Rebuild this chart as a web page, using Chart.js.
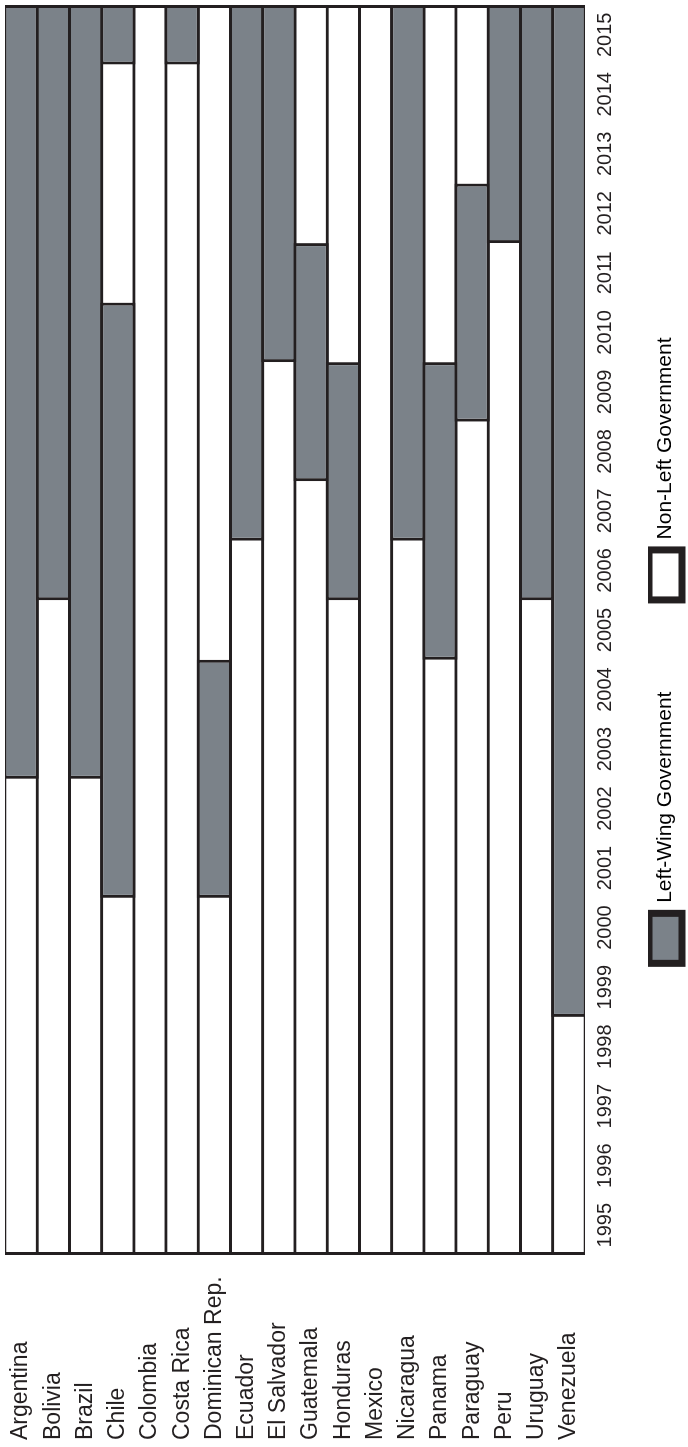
<!DOCTYPE html>
<html>
<head>
<meta charset="utf-8">
<script src="https://cdn.jsdelivr.net/npm/chart.js@4/dist/chart.umd.min.js"></script>
<style>
    html, body { margin: 0; padding: 0; background: #fff; overflow: hidden; }
    body { width: 688px; height: 1447px; position: relative; }
    /* chart is drawn landscape, then turned a quarter turn to the left */
    #wrap {
        position: absolute;
        left: 0;
        top: 0;
        width: 1447px;
        height: 688px;
        transform-origin: 0 0;
        transform: translateY(1447px) rotate(-90deg);
    }
</style>
</head>
<body>
<div id="wrap"><canvas id="govChart" width="1447" height="688"></canvas></div>
<script>
const countries = ['Argentina', 'Bolivia', 'Brazil', 'Chile', 'Colombia', 'Costa Rica', 'Dominican Rep.',
    'Ecuador', 'El Salvador', 'Guatemala', 'Honduras', 'Mexico', 'Nicaragua', 'Panama', 'Paraguay',
    'Peru', 'Uruguay', 'Venezuela'];
const years = [1995, 1996, 1997, 1998, 1999, 2000, 2001, 2002, 2003, 2004, 2005,
    2006, 2007, 2008, 2009, 2010, 2011, 2012, 2013, 2014, 2015];

// first and last year of a left-wing government (null = none)
const leftFrom = [2003, 2006, 2003, 2001, null, 2015, 2001, 2007, 2010, 2008, 2006, null, 2007, 2005, 2009, 2012, 2006, 1999];
const leftTo = [2015, 2015, 2015, 2010, null, 2015, 2004, 2015, 2015, 2011, 2009, null, 2015, 2009, 2012, 2015, 2015, 2015];
// second left-wing spell
const leftFrom2 = [null, null, null, 2015, null, null, null, null, null, null, null, null, null, null, null, null, null, null];
const leftTo2 = [null, null, null, 2015, null, null, null, null, null, null, null, null, null, null, null, null, null, null];

const GRAY = '#7b8289';
const INK = '#231f20';
const FONT = "'Liberation Sans', Arial, sans-serif";

const firstYear = years[0];
const lastYear = years[years.length - 1] + 1;

const spell = (from, to) => from.map((f, i) => (f === null ? null : [f, to[i] + 1]));

const barStyle = {
    borderColor: INK,
    borderWidth: 3,
    borderSkipped: false,
    categoryPercentage: 1,
    barPercentage: 1.093,
    grouped: false
};

// invisible legend entry, used only to space the real ones
const blank = { fillStyle: 'rgba(0,0,0,0)', strokeStyle: 'rgba(0,0,0,0)', lineWidth: 0, datasetIndex: 1 };

new Chart(document.getElementById('govChart'), {
    type: 'bar',
    data: {
        labels: countries,
        datasets: [
            { label: 'Left-Wing Government', data: spell(leftFrom, leftTo), backgroundColor: GRAY, ...barStyle },
            { label: 'Left-Wing Government', data: spell(leftFrom2, leftTo2), backgroundColor: GRAY, ...barStyle },
            { label: 'Non-Left Government', data: countries.map(() => [firstYear, lastYear]), backgroundColor: '#ffffff', ...barStyle }
        ]
    },
    options: {
        indexAxis: 'y',
        responsive: false,
        devicePixelRatio: 1,
        animation: false,
        layout: { padding: { left: 7, right: 5, top: 5, bottom: -4 } },
        scales: {
            x: {
                type: 'linear',
                min: firstYear,
                max: lastYear,
                grid: { display: false, drawTicks: false },
                border: { display: false },
                afterBuildTicks: axis => {
                    axis.ticks = years.map(y => ({ value: y + 0.5 }));
                },
                afterFit: axis => {
                    axis.height = 63;
                    axis.paddingLeft = 0;
                    axis.paddingRight = 0;
                },
                ticks: {
                    autoSkip: false,
                    maxRotation: 0,
                    padding: 8,
                    color: INK,
                    font: { family: FONT, size: 20 },
                    callback: value => String(Math.floor(value))
                }
            },
            y: {
                grid: { display: false, drawTicks: false },
                border: { display: false },
                afterFit: axis => {
                    axis.width = 185;
                    axis.paddingTop = 0;
                    axis.paddingBottom = 0;
                },
                ticks: {
                    crossAlign: 'far',
                    autoSkip: false,
                    color: INK,
                    font: { family: FONT, size: 23 }
                }
            }
        },
        plugins: {
            tooltip: { enabled: false },
            legend: {
                position: 'bottom',
                fullSize: false,
                labels: {
                    color: INK,
                    boxWidth: 50,
                    boxHeight: 33,
                    padding: 1,
                    font: { family: FONT, size: 21 },
                    generateLabels: () => [
                        { ...blank, text: '' },
                        { text: 'Left-Wing Government', fillStyle: GRAY, strokeStyle: INK, lineWidth: 7, datasetIndex: 0 },
                        { ...blank, text: '     ' },
                        { text: 'Non-Left Government', fillStyle: '#ffffff', strokeStyle: INK, lineWidth: 7, datasetIndex: 2 },
                        { ...blank, text: '       ' }
                    ]
                }
            }
        }
    }
});
</script>
</body>
</html>
